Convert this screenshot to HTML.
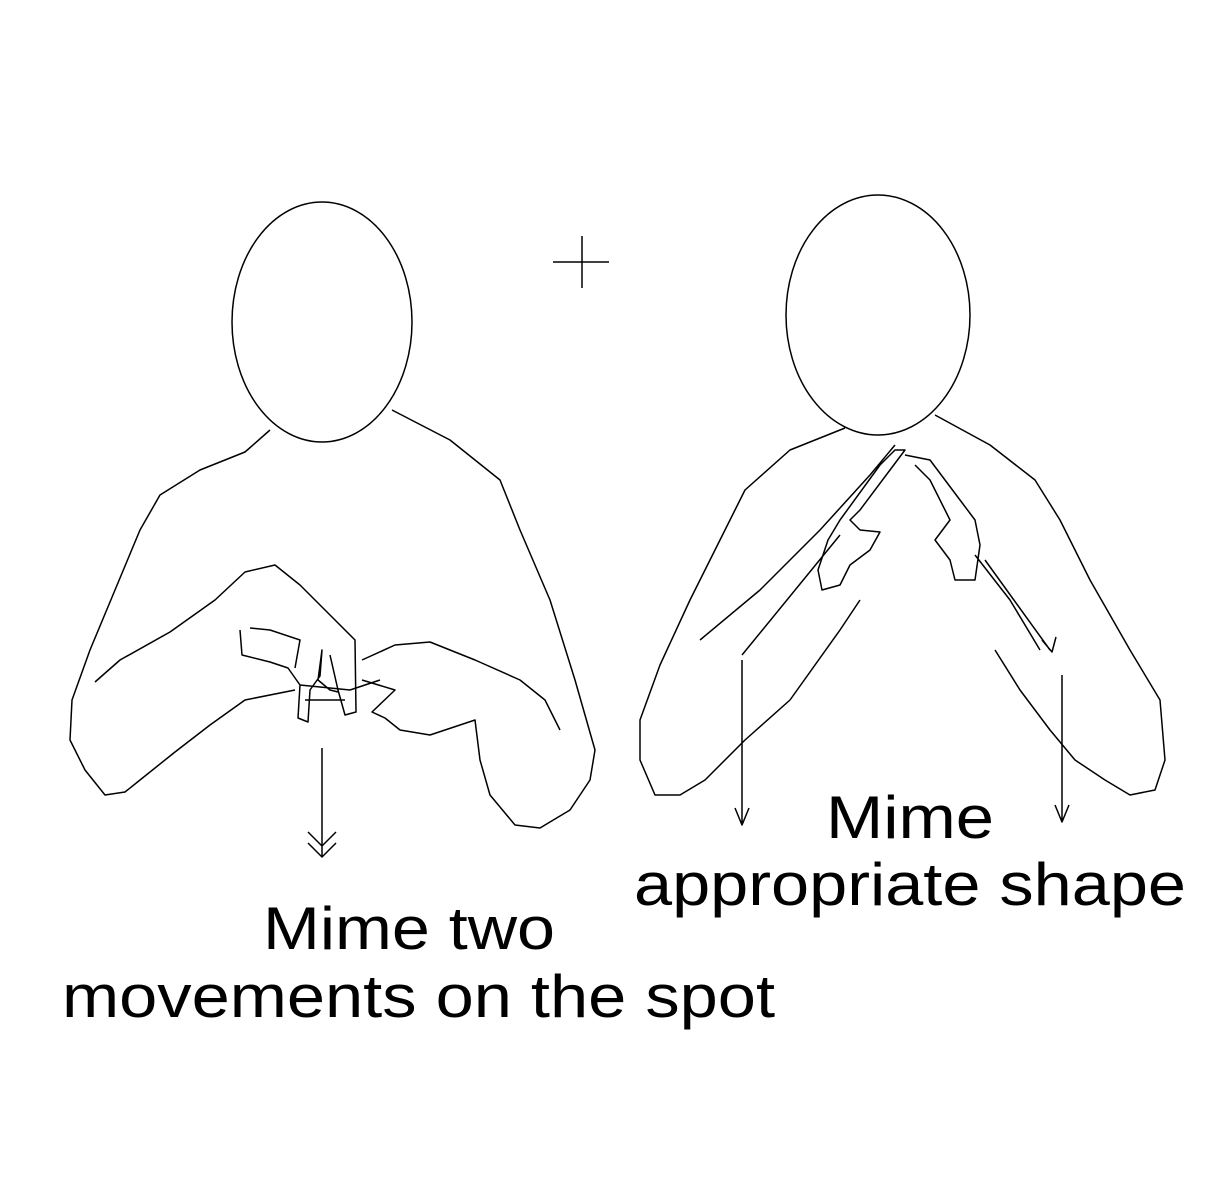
<!DOCTYPE html>
<html><head><meta charset="utf-8"><style>
html,body{margin:0;padding:0;background:#fff;}
svg{display:block}
text{font-family:"Liberation Sans",sans-serif;fill:#000;}
</style></head><body>
<svg width="1227" height="1200" viewBox="0 0 1227 1200">
<g fill="none" stroke="#000" stroke-width="1.5" stroke-linejoin="round">
 <g>
  <ellipse cx="322" cy="322" rx="90" ry="120"/>
  <path d="M270,430 L245,452 L200,470 L160,495 L140,530 L115,590 L90,650 L72,700 L70,740 L85,770 L105,795 L125,792 L140,780 L175,752 L210,725 L245,700 L295,690"/>
  <path d="M95,682 L120,660 L170,632 L215,600 L245,572 L275,565 L300,585 L335,620 L355,640 L356,712 L345,715 L338,690 L330,655"/>
  <path d="M240,630 L242,655 L270,662 L288,668 L300,685 L298,718 L308,722 L310,690 L320,676 L322,650 L318,680 L330,690 L338,692 M295,668 L300,640 L270,630 L250,628 M300,685 L350,690 L380,680 M305,700 L345,700"/>
  <path d="M362,660 L395,645 L430,642 L475,660 L520,680 L545,700 L560,730 M362,680 L395,690 L372,712 L385,718 L400,730 L430,735 L475,720 L480,760 L490,795 L515,825 L540,828 L570,810 L590,780 L595,750 L575,680 L550,600 L520,530 L500,480 L450,440 L392,410"/>
  <path d="M322,748 L322,857 M308,832 L322,846 L336,832 M308,843 L322,857 L336,843"/>
 </g>
 <path d="M553,262 L609,262 M582,236 L582,288"/>
 <g>
  <ellipse cx="878" cy="315" rx="92" ry="120"/>
  <path d="M845,428 L790,450 L745,490 L720,540 L690,600 L660,665 L640,720 L640,760 L655,795 L680,795 L705,780 L745,740 L790,700 L840,630 L860,600"/>
  <path d="M935,415 L990,445 L1035,480 L1060,520 L1090,580 L1130,650 L1160,700 L1165,760 L1155,790 L1130,795 L1105,780 L1075,760 L1050,730 L1020,690 L995,650"/>
  <path d="M840,520 L880,465 L895,450 L905,450 L890,470 L860,510 L850,520 L860,530 L880,532 L870,550 L850,565 L840,585 L822,590 L818,570 L828,540 Z M905,455 L930,460 L960,500 L975,520 L980,545 L975,580 L955,580 L950,560 L935,540 L950,520 L930,480 L915,465 M700,640 L760,590 L820,530 L870,475 L895,445 M1040,650 L1010,600 L975,555"/>
  <path d="M742,660 L742,825 M735,808 L742,825 L749,808 M1062,675 L1062,822 M1055,805 L1062,822 L1069,805 M742,655 L840,535 M1050,650 L985,560 M1042,640 L1052,652 L1056,637"/>
 </g>
</g>
<text x="263" y="949" font-size="60" textLength="292" lengthAdjust="spacingAndGlyphs">Mime two</text>
<text x="62" y="1017" font-size="60" textLength="713" lengthAdjust="spacingAndGlyphs">movements on the spot</text>
<text x="826" y="838" font-size="60" textLength="168" lengthAdjust="spacingAndGlyphs">Mime</text>
<text x="634" y="905" font-size="60" textLength="552" lengthAdjust="spacingAndGlyphs">appropriate shape</text>
</svg>
</body></html>
